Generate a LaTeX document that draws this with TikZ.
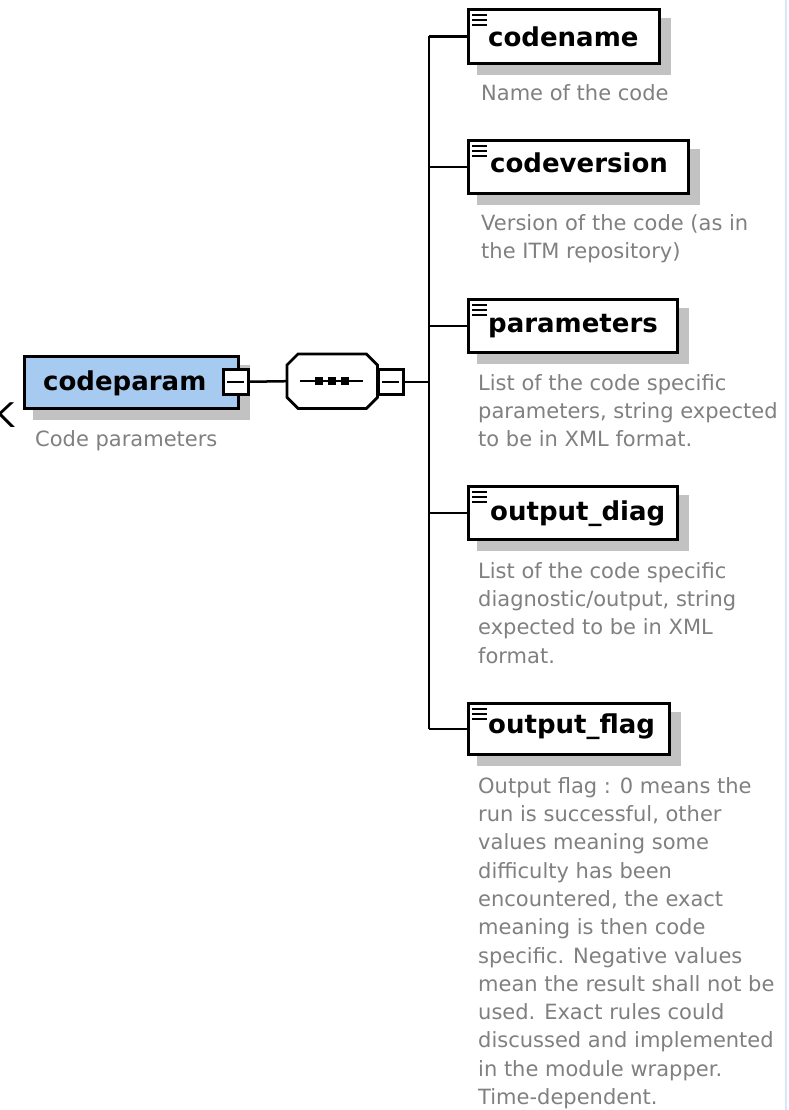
\documentclass[tikz,border=0pt]{standalone}
\usepackage{fontspec}
\setmainfont{DejaVu Sans}
\usetikzlibrary{calc,backgrounds}
\definecolor{cpblue}{RGB}{166,202,240}
\definecolor{shadowgray}{RGB}{194,194,194}
\definecolor{desc}{RGB}{128,128,128}
\definecolor{edgeblue}{RGB}{218,228,250}
\newcommand\dstrut{\rule{0pt}{17pt}}
\begin{document}
\begin{tikzpicture}[x=1pt,y=-1pt,
  box/.style={draw=black, line width=2.8pt, fill=white, rectangle, inner sep=0pt, anchor=north west},
  lbl/.style={font=\fontsize{26}{30}\selectfont\bfseries, inner sep=0pt, anchor=base west},
  dsc/.style={font=\fontsize{21}{28.3}\selectfont, text=desc, inner sep=0pt, anchor=north west, align=left},
  conn/.style={line width=2.5pt},
  minusbox/.style={draw=black, line width=2.5pt, fill=white, minimum width=25pt, minimum height=25pt, inner sep=0pt, anchor=north west,
    path picture={\draw[line width=2.4pt] ([xshift=4pt]path picture bounding box.west) -- ([xshift=-4pt]path picture bounding box.east);}},
  docicon/.pic={\foreach \k in {0,5,10} \draw[line width=2pt] (0,\k) -- (15,\k);}
]
\useasboundingbox (0,0) rectangle (789,1110);
\clip (0,0) rectangle (789,1110);

% stray glyph at the left edge
\node[font=\fontsize{34}{36}\selectfont, inner sep=0pt, anchor=base west] (kglyph) at (-8,427) {K};

% root element
\node[box, fill=cpblue, minimum width=214pt, minimum height=52pt] (codeparam) at (23,355) {};
\node[lbl] (codeparamt) at (43,390) {codeparam};
\node[minusbox] (cpminus) at (222,368) {};
\node[dsc] (codeparamd) at (35,429) {\dstrut Code parameters};

% sequence compositor
\node[minimum width=90pt, minimum height=54pt, inner sep=0pt, anchor=north west] (seq) at (287,354) {};
\draw[line width=2.8pt, fill=white]
  ($(seq.north west)+(11,0)$) -- ($(seq.north east)+(-11,0)$) -- ($(seq.north east)+(0,11)$) --
  ($(seq.south east)+(0,-11)$) -- ($(seq.south east)+(-11,0)$) -- ($(seq.south west)+(11,0)$) --
  ($(seq.south west)+(0,-11)$) -- ($(seq.north west)+(0,11)$) -- cycle;
\draw[conn] ($(seq.center)+(-32,0)$) -- ($(seq.center)+(31,0)$);
\foreach \dx in {-13,0,13} \fill ($(seq.center)+(\dx,0)+(-4,-4)$) rectangle +(8,8);
\node[minusbox] (seqminus) at (377,368) {};

\coordinate (bus) at (429,380);
\draw[conn] (cpminus.east) -- (seq.west);
\draw[conn] (seqminus.east) -- (seqminus.east -| bus);

% children
\node[box, minimum width=191pt, minimum height=54pt] (codename) at (467,8) {};
\node[box, minimum width=220pt, minimum height=53pt] (codeversion) at (467,139) {};
\node[box, minimum width=209pt, minimum height=53pt] (parameters) at (467,298) {};
\node[box, minimum width=209pt, minimum height=53pt] (outdiag) at (467,485) {};
\node[box, minimum width=201pt, minimum height=51pt] (outflag) at (467,702) {};

\foreach \n in {codename,codeversion,parameters,outdiag,outflag}
  \pic at ($(\n.north west)+(5,7)$) {docicon};

\node[lbl] (codenamet) at (488,47) {codename};
\node[lbl] (codeversiont) at (490,173) {codeversion};
\node[lbl] (parameterst) at (488,332) {parameters};
\node[lbl] (outdiagt) at (490,520) {output\_diag};
\node[lbl] (outflagt) at (488,733) {output\_flag};

\node[dsc] (codenamed) at (481,83) {\dstrut Name of the code};
\node[dsc] (codeversiond) at (481,213) {\dstrut Version of the code (as in\\the ITM repository)};
\node[dsc] (parametersd) at (478,373) {\dstrut List of the code specific\\parameters, string expected\\to be in XML format.};
\node[dsc] (outdiagd) at (478,561) {\dstrut List of the code specific\\diagnostic/output, string\\expected to be in XML\\format.};
\node[dsc] (outflagd) at (478,776) {\dstrut Output flag : 0 means the\\run is successful, other\\values meaning some\\difficulty has been\\encountered, the exact\\meaning is then code\\specific. Negative values\\mean the result shall not be\\used. Exact rules could\\discussed and implemented\\in the module wrapper.\\Time-dependent.};

% bus and branches
\draw[conn] (codename.west -| bus) -- (outflag.west -| bus);
\foreach \n in {codename,codeversion,parameters,outdiag,outflag}
  \draw[conn] (\n.west -| bus) -- (\n.west);

% background: page, shadows, right edge line
\begin{scope}[on background layer]
  \fill[white] (0,0) rectangle (789,1110);
  \draw[edgeblue, line width=1.5pt] (786,0) -- (786,1110);
  \foreach \n in {codeparam,codename,codeversion,parameters,outdiag,outflag}
    \fill[shadowgray] ($(\n.north west)+(10,10)$) rectangle ($(\n.south east)+(10,10)$);
  \begin{scope}[shift={(10,10)}]
    \fill[shadowgray]
      ($(seq.north west)+(11,0)$) -- ($(seq.north east)+(-11,0)$) -- ($(seq.north east)+(0,11)$) --
      ($(seq.south east)+(0,-11)$) -- ($(seq.south east)+(-11,0)$) -- ($(seq.south west)+(11,0)$) --
      ($(seq.south west)+(0,-11)$) -- ($(seq.north west)+(0,11)$) -- cycle;
  \end{scope}
\end{scope}
\end{tikzpicture}
\end{document}
